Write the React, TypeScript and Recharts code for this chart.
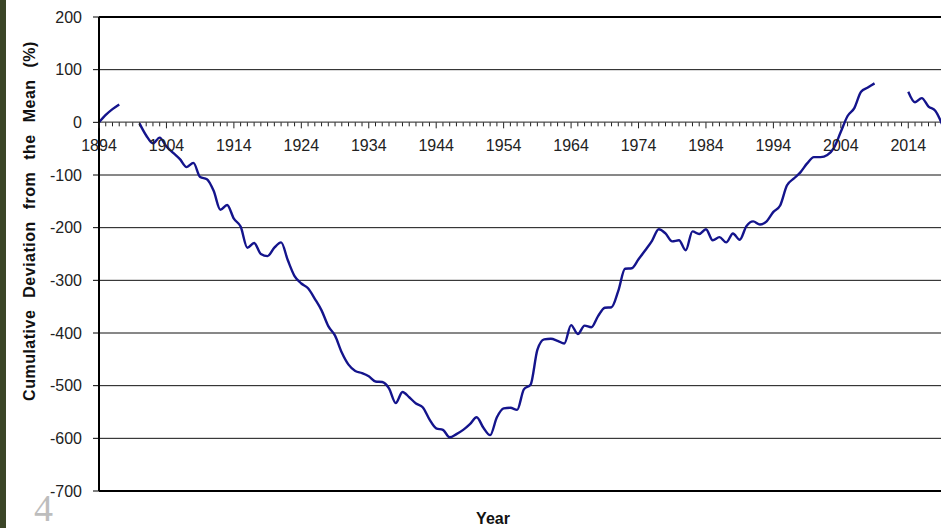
import React from 'react';
import { LineChart, Line, XAxis, YAxis, CartesianGrid, ReferenceLine } from 'recharts';

const years: number[] = [];
for (let y = 1894; y <= 2019; y++) years.push(y);

// Cumulative deviation from the mean (%), one value per year 1894..2019 (null = gap)
const deviation: (number | null)[] = [
  0, 14, 25, 34, null, null, -2, -25, -40, -29, // 1894-1903
  -46, -58, -70, -85, -77, -104, -108, -130, -166, -157, // 1904-1913
  -183, -198, -238, -229, -250, -254, -238, -228, -262, -292, // 1914-1923
  -306, -315, -335, -357, -387, -405, -437, -460, -472, -476, // 1924-1933
  -482, -492, -493, -505, -533, -512, -522, -534, -541, -564, // 1934-1943
  -581, -584, -598, -592, -584, -573, -560, -580, -594, -560, // 1944-1953
  -543, -542, -546, -507, -498, -432, -412, -411, -415, -420, // 1954-1963
  -385, -402, -386, -389, -368, -352, -351, -320, -278, -277, // 1964-1973
  -260, -243, -225, -203, -211, -226, -224, -243, -207, -212, // 1974-1983
  -203, -224, -218, -228, -211, -223, -197, -188, -194, -188, // 1984-1993
  -170, -158, -120, -107, -95, -78, -66, -66, -62, -48, // 1994-2003
  -18, 12, 27, 58, 66, 74, null, null, null, null, // 2004-2013
  58, 38, 46, 30, 22, -3, // 2014-2019
];

const yTicks = [-700, -600, -500, -400, -300, -200, -100, 0, 100, 200];
const labeledYears = [1894, 1904, 1914, 1924, 1934, 1944, 1954, 1964, 1974, 1984, 1994, 2004, 2014];

const data = years.map((year, i) => ({ year, dev: deviation[i] }));

const W = 944;
const H = 528;
const MARGIN = { top: 17, right: 2, bottom: 0, left: 0 };
const Y_AXIS_W = 99;
const X_AXIS_H = 37;
const Y_MIN = -700;
const Y_MAX = 200;
const PLOT_H = H - MARGIN.top - MARGIN.bottom - X_AXIS_H;
const ZERO_Y = MARGIN.top + (PLOT_H * (Y_MAX - 0)) / (Y_MAX - Y_MIN);
const FONT = '"Liberation Sans", Arial, sans-serif';

const YearTick = (props: any) => {
  const { x, payload } = props;
  const year = payload.value as number;
  const major = labeledYears.includes(year);
  return (
    <g>
      <line x1={x} x2={x} y1={ZERO_Y} y2={ZERO_Y + (major ? 6 : 4)} stroke="#222" strokeWidth={1} />
      {major && (
        <text x={x} y={ZERO_Y + 28.5} textAnchor="middle" fontSize={16} fill="#222" fontFamily={FONT}>
          {year}
        </text>
      )}
    </g>
  );
};

export default function App() {
  return (
    <div style={{ position: 'relative', width: 941, height: 528, overflow: 'hidden', background: '#fff' }}>
      <style>{'html,body{margin:0;padding:0;overflow:hidden;background:#fff}'}</style>
      <div style={{ position: 'absolute', left: 0, top: 0 }}>
        <LineChart width={W} height={H} data={data} margin={MARGIN}>
          <CartesianGrid vertical={false} stroke="#111" strokeWidth={1} fill="none" />
          <XAxis
            dataKey="year"
            type="number"
            domain={[1894, 2019]}
            ticks={years}
            interval={0}
            tick={(p: any) => <YearTick {...p} />}
            tickLine={false}
            axisLine={{ stroke: '#000', strokeWidth: 2 }}
            height={X_AXIS_H}
            allowDataOverflow
          />
          <YAxis
            type="number"
            domain={[Y_MIN, Y_MAX]}
            ticks={yTicks}
            interval={0}
            width={Y_AXIS_W}
            tickSize={6}
            tickMargin={11}
            tick={{ fontSize: 16, fill: '#222', fontFamily: FONT }}
            tickLine={{ stroke: '#000', strokeWidth: 1 }}
            axisLine={{ stroke: '#000', strokeWidth: 2 }}
            allowDataOverflow
          />
          <ReferenceLine y={0} stroke="#777" strokeWidth={1.5} />
          <ReferenceLine y={200} stroke="#000" strokeWidth={2} />
          <Line
            type="monotone"
            dataKey="dev"
            stroke="#14148c"
            strokeWidth={2.4}
            dot={false}
            activeDot={false}
            connectNulls={false}
            isAnimationActive={false}
          />
        </LineChart>
      </div>
      <svg width={941} height={528} style={{ position: 'absolute', left: 0, top: 0, pointerEvents: 'none' }}>
        <rect x={0} y={0} width={6} height={528} fill="#3b4527" />
        <text
          transform="translate(35,221) rotate(-90)"
          textAnchor="middle"
          fontSize={16}
          fontWeight="bold"
          fill="#111"
          fontFamily={FONT}
          style={{ wordSpacing: '7px', letterSpacing: '0.5px' }}
        >
          Cumulative Deviation from the Mean (%)
        </text>
        <text x={493} y={524} textAnchor="middle" fontSize={16} fontWeight="bold" fill="#111" fontFamily={FONT}>
          Year
        </text>
        <text x={34} y={521} fontSize={38} fill="#bdbdbd" fontFamily="'Liberation Serif', 'DejaVu Serif', serif">
          4
        </text>
      </svg>
    </div>
  );
}
